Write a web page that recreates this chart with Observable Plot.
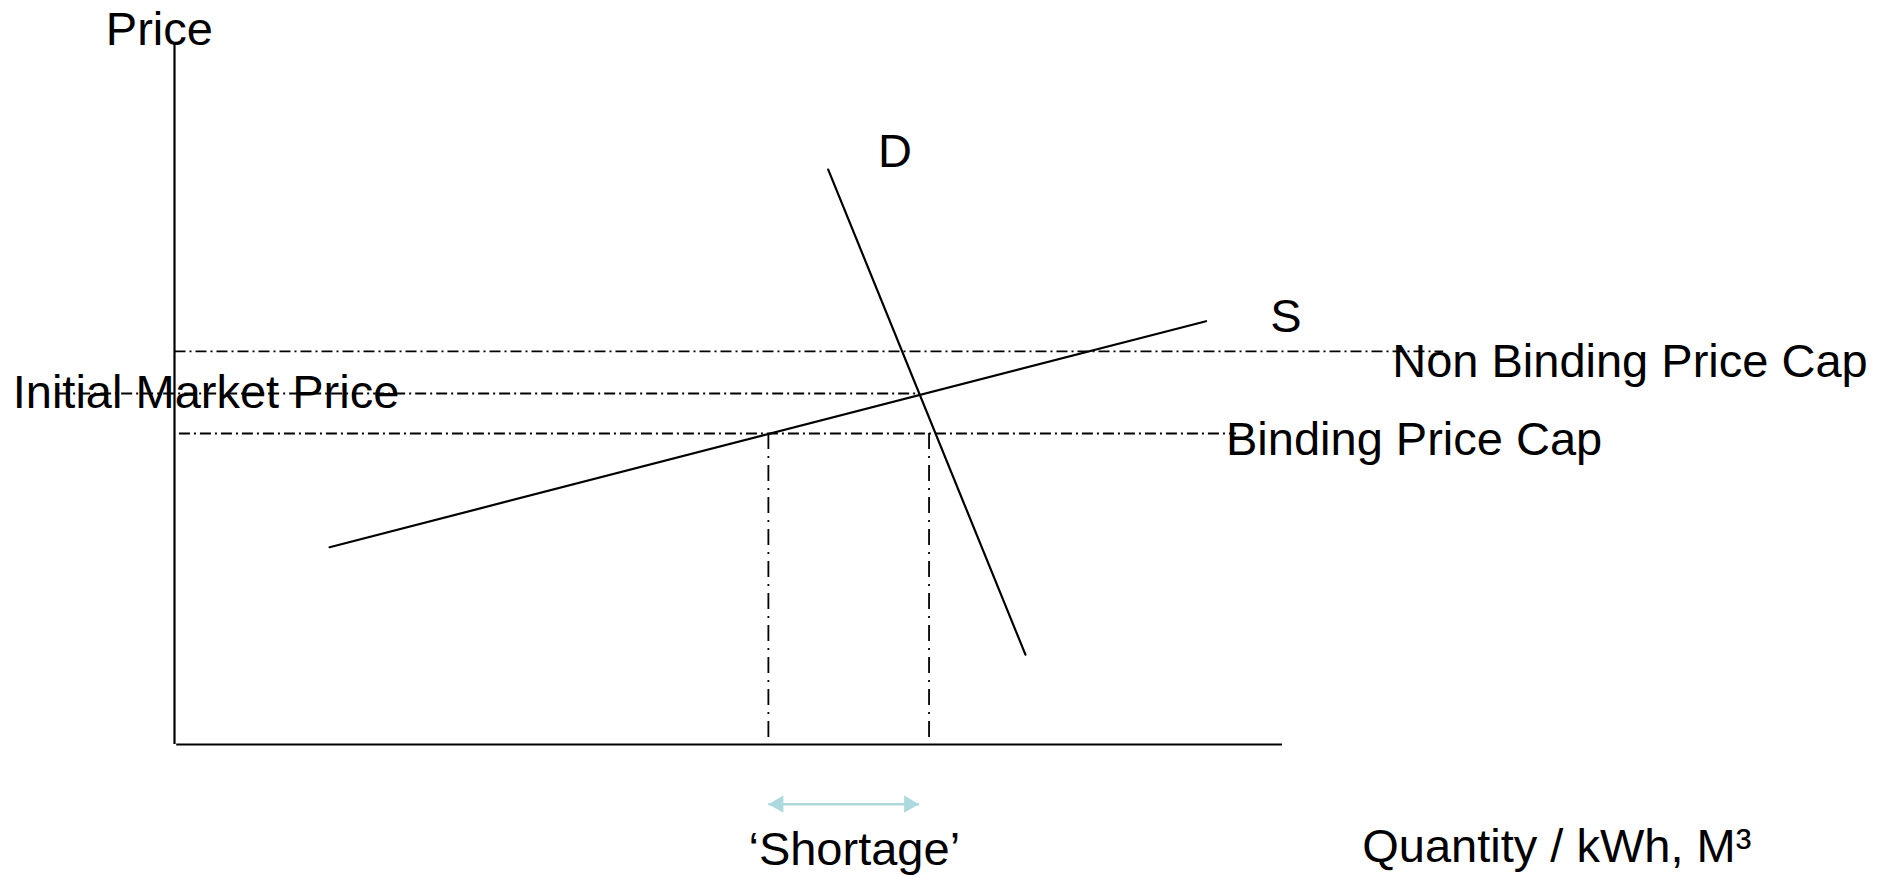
<!DOCTYPE html>
<html><head><meta charset="utf-8">
<script src="https://cdn.jsdelivr.net/npm/d3@7"></script>
<script src="https://cdn.jsdelivr.net/npm/@observablehq/plot@0.6"></script>
<style>html,body{margin:0;padding:0;background:#fff;overflow:hidden}</style>
</head><body><div id="chart"></div>
<script>
// Abstract units: quantity (x) and price (y), both 0..100 along the drawn axes
const supply = [{q: 14.0, p: 28.1}, {q: 93.1, p: 60.3}];
const demand = [{q: 59.0, p: 81.9}, {q: 76.8, p: 12.8}];
const priceLevels = [
  {name: "Non Binding Price Cap", p: 56.0, q1: 0.0, q2: 114.5},
  {name: "Initial Market Price", p: 50.0, q1: -10.5, q2: 67.2},
  {name: "Binding Price Cap", p: 44.3, q1: 0.4, q2: 95.8}
];
const bindingCap = 44.3;
const quantities = [{name: "Quantity supplied", q: 53.6}, {name: "Quantity demanded", q: 68.1}];
const shortage = [{q1: 53.6, q2: 67.2, p: -8.5}];
const labels = [
  {text: "Price", q: -6.2, p: 99.6},
  {text: "D", q: 63.5, p: 82.3},
  {text: "S", q: 98.9, p: 58.8},
  {text: "Non Binding Price Cap", q: 109.9, p: 52.3},
  {text: "Initial Market Price", q: -14.6, p: 47.9},
  {text: "Binding Price Cap", q: 94.9, p: 41.2},
  {text: "\u2018Shortage\u2019", q: 51.8, p: -17.2},
  {text: "Quantity / kWh, M\u00B3", q: 107.2, p: -16.8}
];

const font = "Liberation Sans, Arial, Helvetica, sans-serif";
const arrowColor = "#acd8de";

const chart = Plot.plot({
  width: 1881,
  height: 877,
  margin: 0,
  x: {domain: [0, 100], range: [174, 1282], axis: null},
  y: {domain: [0, 100], range: [744, 42], axis: null},
  style: {background: "#fff", overflow: "visible"},
  marks: [
    // dash-dot price levels
    Plot.link(priceLevels, {x1: "q1", x2: "q2", y1: "p", y2: "p", stroke: "#000", strokeWidth: 1.8, strokeDasharray: "11,4,2,4"}),
    // dash-dot quantity drops
    Plot.ruleX(quantities, {x: "q", y1: bindingCap, y2: 0, stroke: "#000", strokeWidth: 1.8, strokeDasharray: "16,7,2,7"}),
    // axes
    Plot.ruleX([0], {y1: 0, y2: 100, stroke: "#000", strokeWidth: 2.2}),
    Plot.ruleY([0], {x1: 0.2, x2: 100, stroke: "#000", strokeWidth: 2.2}),
    // curves
    Plot.line(supply, {x: "q", y: "p", stroke: "#000", strokeWidth: 2.2}),
    Plot.line(demand, {x: "q", y: "p", stroke: "#000", strokeWidth: 2.2}),
    // shortage arrow
    Plot.link(shortage, {x1: "q1", x2: "q2", y1: "p", y2: "p", stroke: arrowColor, strokeWidth: 2.5}),
    Plot.dot(shortage, {x: "q1", y: "p", symbol: "triangle", r: 6.4, rotate: -90, fill: arrowColor, stroke: "none", dx: 10}),
    Plot.dot(shortage, {x: "q2", y: "p", symbol: "triangle", r: 6.4, rotate: 90, fill: arrowColor, stroke: "none", dx: -10}),
    // labels
    Plot.text(labels, {x: "q", y: "p", text: "text", textAnchor: "start", lineAnchor: "bottom", fontSize: 47, fontFamily: font, fill: "#000"})
  ]
});
document.getElementById("chart").appendChild(chart);
</script>
</body></html>
